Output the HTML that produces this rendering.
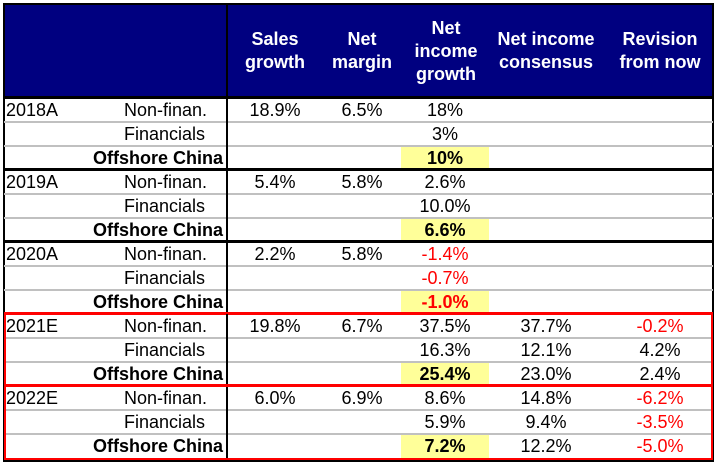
<!DOCTYPE html>
<html><head><meta charset="utf-8"><style>
body{margin:0;width:717px;height:465px;background:#fff;position:relative;overflow:hidden;font-family:"Liberation Sans",Arial,sans-serif;}
.a{position:absolute;}
.hd{position:absolute;color:#fff;font-weight:bold;font-size:18px;text-align:center;line-height:23px;}
.c{position:absolute;font-size:18px;line-height:24px;text-align:center;color:#000;white-space:nowrap;}
</style></head><body>
<div class="a" style="left:4px;top:4px;width:709px;height:94px;background:#000080;"></div>
<div class="a" style="left:3px;top:3px;border:2px solid #000;width:707px;height:455px;"></div>
<div class="hd" style="left:235px;top:28px;width:80px;">Sales<br>growth</div>
<div class="hd" style="left:322px;top:28px;width:80px;">Net<br>margin</div>
<div class="hd" style="left:406px;top:17px;width:80px;">Net<br>income<br>growth</div>
<div class="hd" style="left:486px;top:28px;width:120px;">Net income<br>consensus</div>
<div class="hd" style="left:610px;top:28px;width:100px;">Revision<br>from now</div>
<div id="t"></div>
<script>
const years=["2018A","2019A","2020A","2021E","2022E"];
const cats=["Non-finan.","Financials","Offshore China"];
const sales=[["18.9%","",""],["5.4%","",""],["2.2%","",""],["19.8%","",""],["6.0%","",""]];
const margin=[["6.5%","",""],["5.8%","",""],["5.8%","",""],["6.7%","",""],["6.9%","",""]];
const nig=[["18%","3%","10%"],["2.6%","10.0%","6.6%"],["-1.4%","-0.7%","-1.0%"],["37.5%","16.3%","25.4%"],["8.6%","5.9%","7.2%"]];
const cons=[["","",""],["","",""],["","",""],["37.7%","12.1%","23.0%"],["14.8%","9.4%","12.2%"]];
const rev=[["","",""],["","",""],["","",""],["-0.2%","4.2%","2.4%"],["-6.2%","-3.5%","-5.0%"]];
const t=document.getElementById('t');
function mk(css,txt){const d=document.createElement('div');d.className=txt===undefined?'a':'c';d.style.cssText=css;if(txt!==undefined)d.textContent=txt;t.appendChild(d);return d;}
const top0=98,rh=24;
years.forEach((y,g)=>{
  const gy=top0+g*3*rh;
  for(let r=0;r<3;r++){
    const yy=gy+r*rh;
    if(r==2){const h=mk(`left:401px;top:${yy+1}px;width:88px;height:23px;background:#ffff99;`);
      
      }
    if(r>0){const s=mk(`left:4px;top:${yy-1}px;width:709px;height:2px;background:#c0c0c0;`);
      
      }
    if(r==0){const l=mk(`left:6px;top:${yy}px;text-align:left;`,y);
      
      }
    const bold=r==2;
    const cl=bold?mk(`right:${717-223}px;top:${yy}px;font-weight:bold;text-align:right;`,cats[r]):mk(`left:124px;top:${yy}px;text-align:left;`,cats[r]);
    
    
    const cols=[[sales,235,80],[margin,322,80],[nig,405,80],[cons,506,80],[rev,620,80]];
    cols.forEach(([arr,x,w],ci)=>{const v=arr[g][r];if(!v)return;
      let col='#000';if((ci==2||ci==4)&&v[0]=='-')col='#ff0000';
      const c=mk(`left:${x}px;top:${yy}px;width:${w}px;color:${col};${ci==2&&bold?'font-weight:bold;':''}`,v);
      
      });
  }
  if(g>0&&g<4){const b=mk(`left:4px;top:${gy-2}px;width:709px;height:3px;background:${g==3?'#ff0000':'#000'};`);
    
    }
});
const hb=mk(`left:4px;top:96px;width:709px;height:3px;background:#000;`);


const vl=mk(`left:226px;top:4px;width:2px;height:456px;background:#000;`);


const rb1=mk(`left:4px;top:312px;width:705px;height:70px;border:2px solid #ff0000;`);


const rb2=mk(`left:4px;top:385px;width:705px;height:71px;border:2px solid #ff0000;`);


</script>
</body></html>
